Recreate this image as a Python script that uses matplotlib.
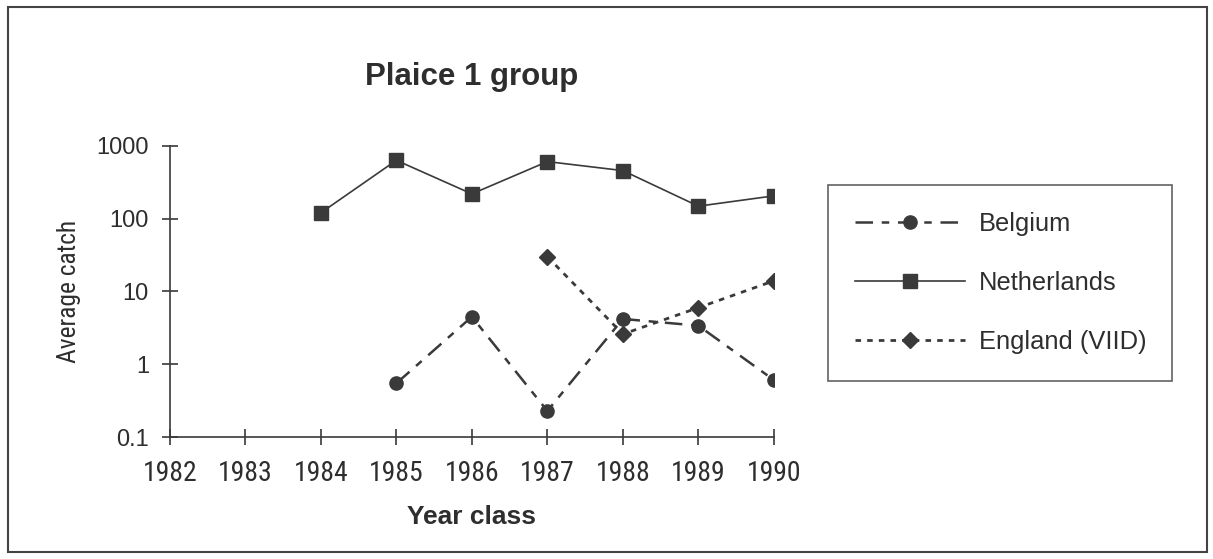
import matplotlib
matplotlib.use("Agg")
import matplotlib.pyplot as plt
from matplotlib.patches import Rectangle

# average catch per year class, plaice 1 group
years = [1982, 1983, 1984, 1985, 1986, 1987, 1988, 1989, 1990]
belgium_years = [1985, 1986, 1987, 1988, 1989, 1990]
belgium = [0.55, 4.5, 0.23, 4.2, 3.4, 0.61]
nl_years = [1984, 1985, 1986, 1987, 1988, 1989, 1990]
netherlands = [120, 630, 218, 605, 455, 148, 205]
eng_years = [1987, 1988, 1989, 1990]
england = [30, 2.6, 6.0, 14]
y_ticks = [0.1, 1, 10, 100, 1000]
y_tick_labels = ["0.1", "1", "10", "100", "1000"]

regular = ["Liberation Sans", "DejaVu Sans"]
narrow = ["Liberation Sans Narrow", "Roboto Condensed", "Archivo Narrow",
          "Liberation Sans", "DejaVu Sans"]
plt.rcParams["font.family"] = regular

ink = "#3a3a3a"
text_col = "#2e2e2e"

fig = plt.figure(figsize=(12.13, 5.59), dpi=100)
ax = fig.add_axes([0.140, 0.2177, 0.498, 0.5217])

ax.plot(belgium_years, belgium, color=ink, lw=1.8, dashes=(7, 3.5, 3, 3.5),
        marker="o", ms=9.5, mfc=ink, mec=ink, label="Belgium")
ax.plot(nl_years, netherlands, color=ink, lw=1.2, linestyle="-",
        marker="s", ms=10.5, mfc=ink, mec=ink, label="Netherlands")
ax.plot(eng_years, england, color=ink, lw=2, dashes=(2, 2.2),
        marker="D", ms=8, mfc=ink, mec=ink, label="England (VIID)")

ax.set_yscale("log")
ax.set_ylim(0.1, 1000)
ax.set_xlim(years[0], years[-1])
ax.set_yticks(y_ticks)
ax.set_yticklabels(y_tick_labels, fontsize=17, color=text_col)
ax.yaxis.set_minor_locator(matplotlib.ticker.NullLocator())
ax.set_xticks(years)
ax.set_xticklabels([str(y) for y in years], fontsize=20, family=narrow, color=text_col)

for side in ["top", "right"]:
    ax.spines[side].set_visible(False)
for side in ["left", "bottom"]:
    ax.spines[side].set_color(ink)
    ax.spines[side].set_linewidth(1.2)
ax.tick_params(axis="both", direction="inout", length=12, width=1.2, color=ink)
ax.tick_params(axis="x", pad=10)
ax.tick_params(axis="y", pad=9)

ax.set_ylabel("Average catch", fontsize=18.3, family=narrow, color=text_col,
              labelpad=11)
ax.set_xlabel("Year class", fontsize=19, fontweight="bold", color=text_col,
              labelpad=13)
ax.set_title("Plaice 1 group", fontsize=22.5, fontweight="bold", color=text_col,
             pad=44)

leg = fig.legend(loc="upper left", bbox_to_anchor=(0.6826, 0.669, 0.2836, 0.0),
                 mode="expand", fontsize=18.4, handlelength=4.3, handletextpad=0.55,
                 labelspacing=1.37, borderpad=1.05, borderaxespad=0,
                 fancybox=False, frameon=True)
leg.get_frame().set_edgecolor(ink)
leg.get_frame().set_linewidth(1.2)
for t in leg.get_texts():
    t.set_color(text_col)

# outer border round the whole chart
fig.patches.append(Rectangle((0.007, 0.013), 0.988, 0.975, transform=fig.transFigure,
                             fill=False, edgecolor="#444444", linewidth=1.5))

fig.savefig("out.png", dpi=100, facecolor="white")
